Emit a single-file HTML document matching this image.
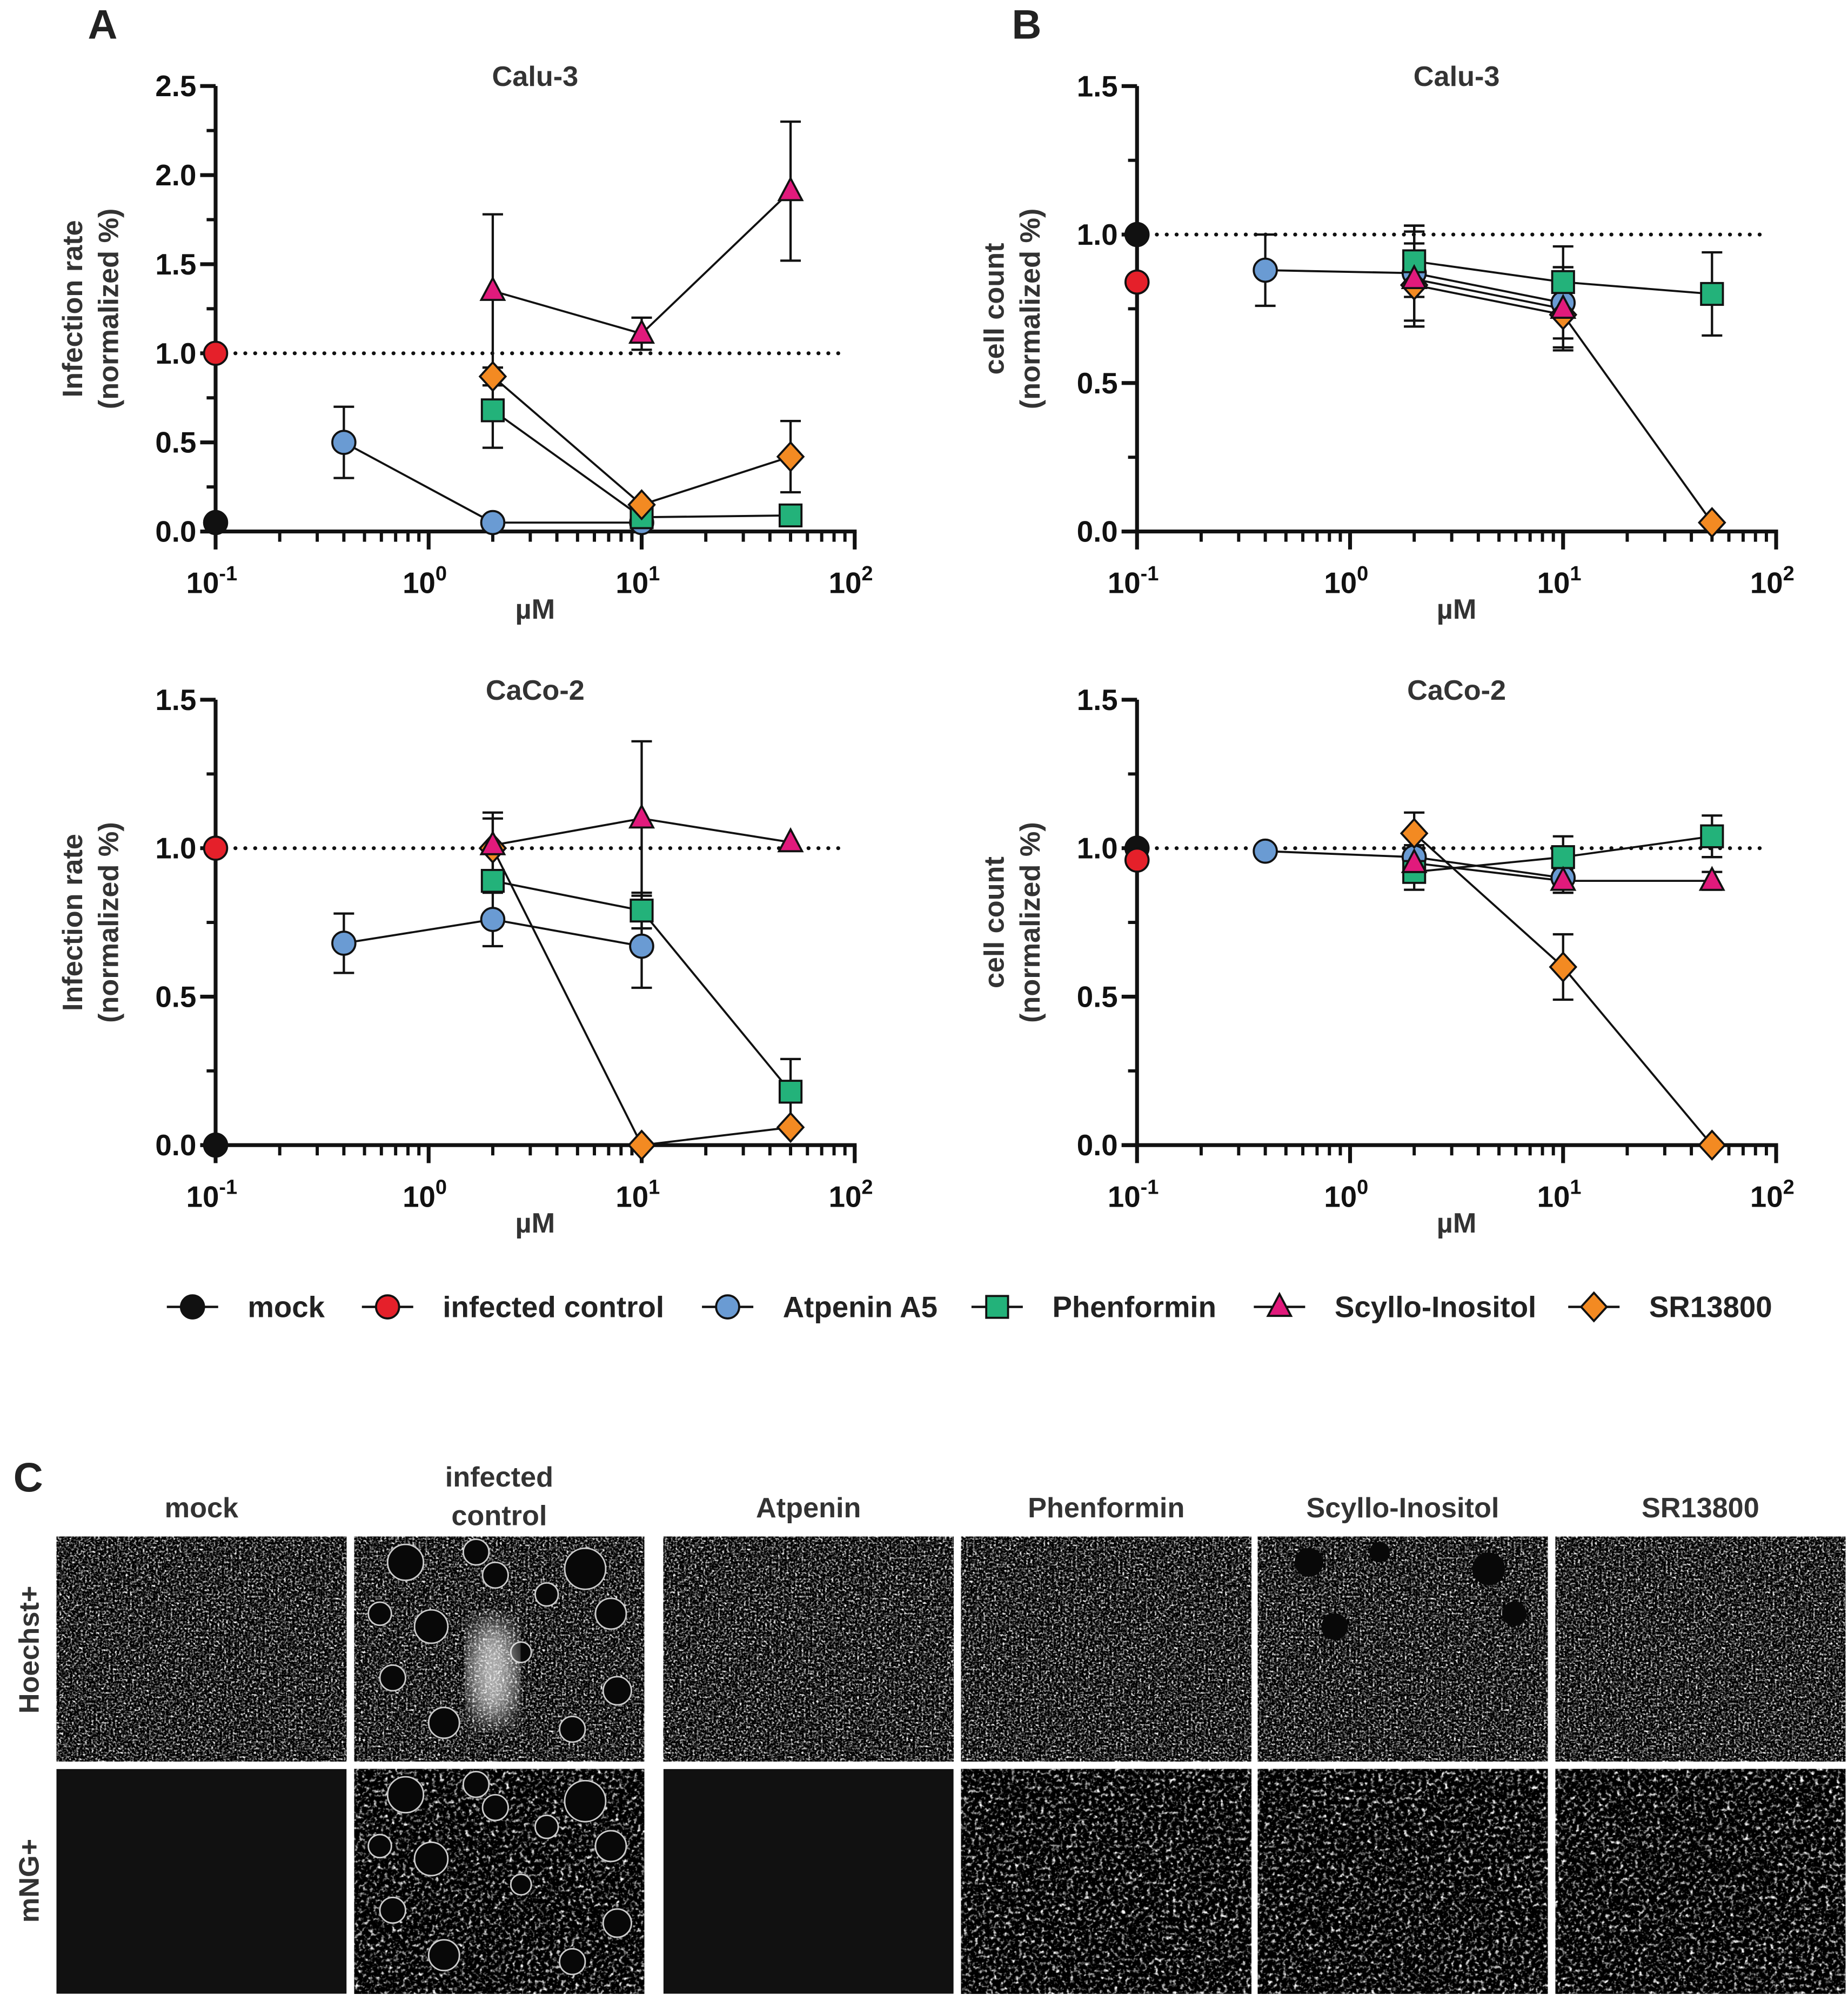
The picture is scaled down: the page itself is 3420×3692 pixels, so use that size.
<!DOCTYPE html>
<html><head><meta charset="utf-8">
<style>
html,body{margin:0;padding:0;background:#fff;}
svg{display:block;}
text{font-family:"Liberation Sans",Arial,sans-serif;font-weight:bold;}
</style></head>
<body>
<svg id="fig" width="3420" height="3692" viewBox="0 0 1440 1554" preserveAspectRatio="none" xmlns="http://www.w3.org/2000/svg">
<defs>
<filter id="speck" x="0" y="0" width="100%" height="100%" color-interpolation-filters="sRGB">
<feTurbulence type="fractalNoise" baseFrequency="0.6" numOctaves="2" seed="3"/>
<feColorMatrix type="matrix" values="0.33 0.33 0.33 0 0  0.33 0.33 0.33 0 0  0.33 0.33 0.33 0 0  0 0 0 0 1"/>
<feComponentTransfer><feFuncR type="linear" slope="4.5" intercept="-2.1"/><feFuncG type="linear" slope="4.5" intercept="-2.1"/><feFuncB type="linear" slope="4.5" intercept="-2.1"/></feComponentTransfer>
</filter>
<filter id="speck2" x="0" y="0" width="100%" height="100%" color-interpolation-filters="sRGB">
<feTurbulence type="fractalNoise" baseFrequency="0.35" numOctaves="2" seed="9"/>
<feColorMatrix type="matrix" values="0.33 0.33 0.33 0 0  0.33 0.33 0.33 0 0  0.33 0.33 0.33 0 0  0 0 0 0 1"/>
<feComponentTransfer><feFuncR type="linear" slope="5" intercept="-2.5"/><feFuncG type="linear" slope="5" intercept="-2.5"/><feFuncB type="linear" slope="5" intercept="-2.5"/></feComponentTransfer>
</filter>
<filter id="blur"><feGaussianBlur stdDeviation="10"/></filter>
</defs>
<g id="charts"></g>
<g id="legend"></g>
<g id="panelC"></g>
</svg>
<script>
const NS="http://www.w3.org/2000/svg";
const svg=document.getElementById('fig');
function mk(tag,attrs,parent){const e=document.createElementNS(NS,tag);for(const k in attrs)e.setAttribute(k,attrs[k]);(parent||svg).appendChild(e);return e;}

// ---- data ----
const seriesNames=["mock","infected control","Atpenin A5","Phenformin","Scyllo-Inositol","SR13800"];
const seriesColors=["#111111","#e5202a","#6a9bd3","#23b27a","#e11a7c","#f38a22"];
const seriesShapes=["circle","circle","circle","square","triangle","diamond"];

// panel A top: Calu-3 infection
const aTopX=[[0.1],[0.1],[0.4,2,10],[2,10,50],[2,10,50],[2,10,50]];
const aTopY=[[0.05],[1.0],[0.5,0.05,0.05],[0.68,0.08,0.09],[1.35,1.11,1.91],[0.87,0.15,0.42]];
const aTopErr=[[0],[0],[0.2,0,0],[0.21,0,0],[0.43,0.09,0.39],[0.05,0,0.2]];
// panel A bottom: CaCo-2 infection
const aBotX=[[0.1],[0.1],[0.4,2,10],[2,10,50],[2,10,50],[2,10,50]];
const aBotY=[[0.0],[1.0],[0.68,0.76,0.67],[0.89,0.79,0.18],[1.01,1.1,1.02],[1.0,0.0,0.06]];
const aBotErr=[[0],[0],[0.1,0.09,0.14],[0.03,0.06,0.11],[0.11,0.26,0],[0.1,0,0]];
// panel B top: Calu-3 cell count
const bTopX=[[0.1],[0.1],[0.4,2,10],[2,10,50],[2,10],[2,10,50]];
const bTopY=[[1.0],[0.84],[0.88,0.87,0.77],[0.91,0.84,0.8],[0.85,0.75],[0.83,0.73,0.03]];
const bTopErr=[[0],[0],[0.12,0.16,0.12],[0.12,0.12,0.14],[0.16,0.14],[0.14,0.11,0]];
// panel B bottom: CaCo-2 cell count
const bBotX=[[0.1],[0.1],[0.4,2,10],[2,10,50],[2,10,50],[2,10,50]];
const bBotY=[[1.0],[0.96],[0.99,0.97,0.9],[0.92,0.97,1.04],[0.95,0.89,0.89],[1.05,0.6,0.0]];
const bBotErr=[[0],[0],[0,0.04,0.05],[0.06,0.07,0.07],[0,0.04,0.03],[0.07,0.11,0]];

const yTicksTop=["0.0","0.5","1.0","1.5","2.0","2.5"];
const yTicksSmall=["0.0","0.5","1.0","1.5"];
const xTickExp=["-1","0","1","2"];

const charts=document.getElementById('charts');
function panel(cfg){
  const g=mk('g',{},charts);
  
  
  const X=v=>cfg.x0+(Math.log10(v)+1)*166;
  const Y=v=>cfg.y0-v*cfg.k;
  const xEnd=X(100);
  const ya=mk('line',{x1:cfg.x0,y1:cfg.y0+1.5,x2:cfg.x0,y2:Y(cfg.ymax),stroke:'#111','stroke-width':3},g);
  
  const xa=mk('line',{x1:cfg.x0-12,y1:cfg.y0,x2:xEnd+1.5,y2:cfg.y0,stroke:'#111','stroke-width':3},g);
  
  cfg.yticks.forEach((t,i)=>{const v=parseFloat(t);const y=Y(v);
    mk('line',{x1:cfg.x0-12,y1:y,x2:cfg.x0,y2:y,stroke:'#111','stroke-width':3},g);
    const tx=mk('text',{x:cfg.x0-15,y:y+8,'text-anchor':'end','font-size':23,fill:'#111'},g);tx.textContent=t;
    
    if(i<cfg.yticks.length-1){const ym=Y(v+0.25);mk('line',{x1:cfg.x0-7,y1:ym,x2:cfg.x0,y2:ym,stroke:'#111','stroke-width':2.5},g);}
  });
  xTickExp.forEach((e,i)=>{const x=X(Math.pow(10,+e));
    mk('line',{x1:x,y1:cfg.y0,x2:x,y2:cfg.y0+14,stroke:'#111','stroke-width':3},g);
    const tx=mk('text',{x:x-3,y:cfg.y0+48,'text-anchor':'middle','font-size':23,fill:'#111'},g);
    
    tx.textContent='10';const sp=mk('tspan',{dy:-10,'font-size':16},tx);sp.textContent=e;
    if(i<3){for(let m=2;m<=9;m++){const xm=X(m*Math.pow(10,+e));mk('line',{x1:xm,y1:cfg.y0,x2:xm,y2:cfg.y0+8,stroke:'#111','stroke-width':2.5},g);}}
  });
  const ref=mk('line',{x1:cfg.x0,y1:Y(1),x2:xEnd-6,y2:Y(1),stroke:'#111','stroke-width':3,'stroke-dasharray':'0.1 7.6','stroke-linecap':'round'},g);
  
  const tt=mk('text',{x:cfg.x0+249,y:cfg.titleY,'text-anchor':'middle','font-size':22,fill:'#333'},g);tt.textContent=cfg.title;
  
  const xt=mk('text',{x:cfg.x0+249,y:cfg.y0+68,'text-anchor':'middle','font-size':22,fill:'#333'},g);xt.textContent='µM';
  
  const cy=(cfg.y0+Y(cfg.ymax))/2;
  const l1=mk('text',{x:0,y:0,'text-anchor':'middle','font-size':22,fill:'#333',transform:`translate(${cfg.x0-104},${cy}) rotate(-90)`},g);l1.textContent=cfg.ylab;
  
  const l2=mk('text',{x:0,y:0,'text-anchor':'middle','font-size':22,fill:'#333',transform:`translate(${cfg.x0-76},${cy}) rotate(-90)`},g);l2.textContent='(normalized %)';
  
  const order=[2,3,5,4,0,1];
  order.forEach(s=>{
    const xs=cfg.xs[s],ys=cfg.ys[s],es=cfg.es[s];
    if(xs.length>1){const pl=mk('polyline',{points:xs.map((x,i)=>X(x)+','+Y(ys[i])).join(' '),fill:'none',stroke:'#111','stroke-width':1.6},g);
      }
    xs.forEach((x,i)=>{if(es[i]>0){const px=X(x);
      const eb=mk('path',{d:`M${px},${Y(ys[i]-es[i])}V${Y(ys[i]+es[i])}M${px-8},${Y(ys[i]+es[i])}h16M${px-8},${Y(ys[i]-es[i])}h16`,stroke:'#111','stroke-width':1.8,fill:'none'},g);
      }});
  });
  order.forEach(s=>{cfg.xs[s].forEach((x,i)=>{const m=marker(g,seriesShapes[s],X(x),Y(cfg.ys[s][i]),seriesColors[s]);
    
    });});
}
function marker(g,shape,x,y,c){
  const a={fill:c,stroke:'#111','stroke-width':1.6};
  if(shape==='circle')return mk('circle',Object.assign({cx:x,cy:y,r:9},a),g);
  if(shape==='square')return mk('rect',Object.assign({x:x-8.5,y:y-8.5,width:17,height:17},a),g);
  if(shape==='triangle')return mk('polygon',Object.assign({points:`${x},${y-10} ${x+9},${y+7} ${x-9},${y+7}`},a),g);
  return mk('polygon',Object.assign({points:`${x},${y-11} ${x+10},${y} ${x},${y+11} ${x-10},${y}`},a),g);
}
panel({name:'chart-a-calu3',x0:168,y0:414,k:138.8,ymax:2.5,yticks:yTicksTop,title:'Calu-3',titleY:67,ylab:'Infection rate',xs:aTopX,ys:aTopY,es:aTopErr});
panel({name:'chart-a-caco2',x0:168,y0:892,k:231.3,ymax:1.5,yticks:yTicksSmall,title:'CaCo-2',titleY:545,ylab:'Infection rate',xs:aBotX,ys:aBotY,es:aBotErr});
panel({name:'chart-b-calu3',x0:886,y0:414,k:231.3,ymax:1.5,yticks:yTicksSmall,title:'Calu-3',titleY:67,ylab:'cell count',xs:bTopX,ys:bTopY,es:bTopErr});
panel({name:'chart-b-caco2',x0:886,y0:892,k:231.3,ymax:1.5,yticks:yTicksSmall,title:'CaCo-2',titleY:545,ylab:'cell count',xs:bBotX,ys:bBotY,es:bBotErr});

[['A',80,30],['B',800,30],['C',22,1162]].forEach(([t,x,y])=>{const e=mk('text',{x:x,y:y,'text-anchor':'middle','font-size':32,fill:'#222'});e.textContent=t;
  });

const lg=document.getElementById('legend');

const legX=[150,302,567,777,997,1242];
seriesNames.forEach((n,i)=>{const g=mk('g',{},lg);
  
  mk('line',{x1:legX[i]-20,y1:1018,x2:legX[i]+20,y2:1018,stroke:'#111','stroke-width':1.8},g);
  marker(g,seriesShapes[i],legX[i],1018,seriesColors[i]);
  const t=mk('text',{x:legX[i]+43,y:1026,'font-size':23,fill:'#222'},g);t.textContent=n;});

const pc=document.getElementById('panelC');

const colX=[44,276,517,749,980,1212];
const colT=["mock","infected control","Atpenin","Phenformin","Scyllo-Inositol","SR13800"];
const holes=[[40,20,14],[95,12,10],[180,25,16],[200,60,12],[60,70,13],[30,110,10],[150,45,9],[205,120,11],[70,145,12],[130,90,8],[20,60,9],[170,150,10],[110,30,10]];
colT.forEach((t,i)=>{const cx=colX[i]+113;
  if(i===1){[['infected',1158],['control',1188]].forEach(([s,y])=>{const e=mk('text',{x:cx,y:y,'text-anchor':'middle','font-size':22,fill:'#333'},pc);e.textContent=s;});}
  else{const e=mk('text',{x:cx,y:1182,'text-anchor':'middle','font-size':22,fill:'#333'},pc);e.textContent=t;}
  [[1197,'hoechst'],[1378,'mng']].forEach(([y,r])=>{
    const dark=(r==='mng'&&(i===0||i===2));
    const rc=mk('rect',{x:colX[i],y:y,width:226,height:175,fill:dark?'#111':'#000'},pc);
    
    if(!dark){mk('rect',{x:colX[i],y:y,width:226,height:175,fill:'#fff',filter:r==='hoechst'?'url(#speck)':'url(#speck2)'},pc);}
    if(i===1){holes.forEach(h=>mk('circle',{cx:colX[i]+h[0],cy:y+h[1],r:h[2],fill:'#080808',stroke:'#ccc','stroke-width':1.2},pc));}
    if(i===4&&r==='hoechst'){holes.slice(0,5).forEach(h=>mk('circle',{cx:colX[i]+h[0],cy:y+h[1],r:h[2]*0.8,fill:'#080808'},pc));}
    if(i===1&&r==='hoechst'){mk('ellipse',{cx:colX[i]+108,cy:y+105,rx:18,ry:40,fill:'#fff',opacity:0.7,filter:'url(#blur)'},pc);}
  });
});
[['Hoechst+',1285],['mNG+',1465]].forEach(([t,y])=>{const e=mk('text',{x:0,y:0,'text-anchor':'middle','font-size':22,fill:'#333',transform:`translate(30,${y}) rotate(-90)`},pc);e.textContent=t;
  });
</script>
</body></html>
